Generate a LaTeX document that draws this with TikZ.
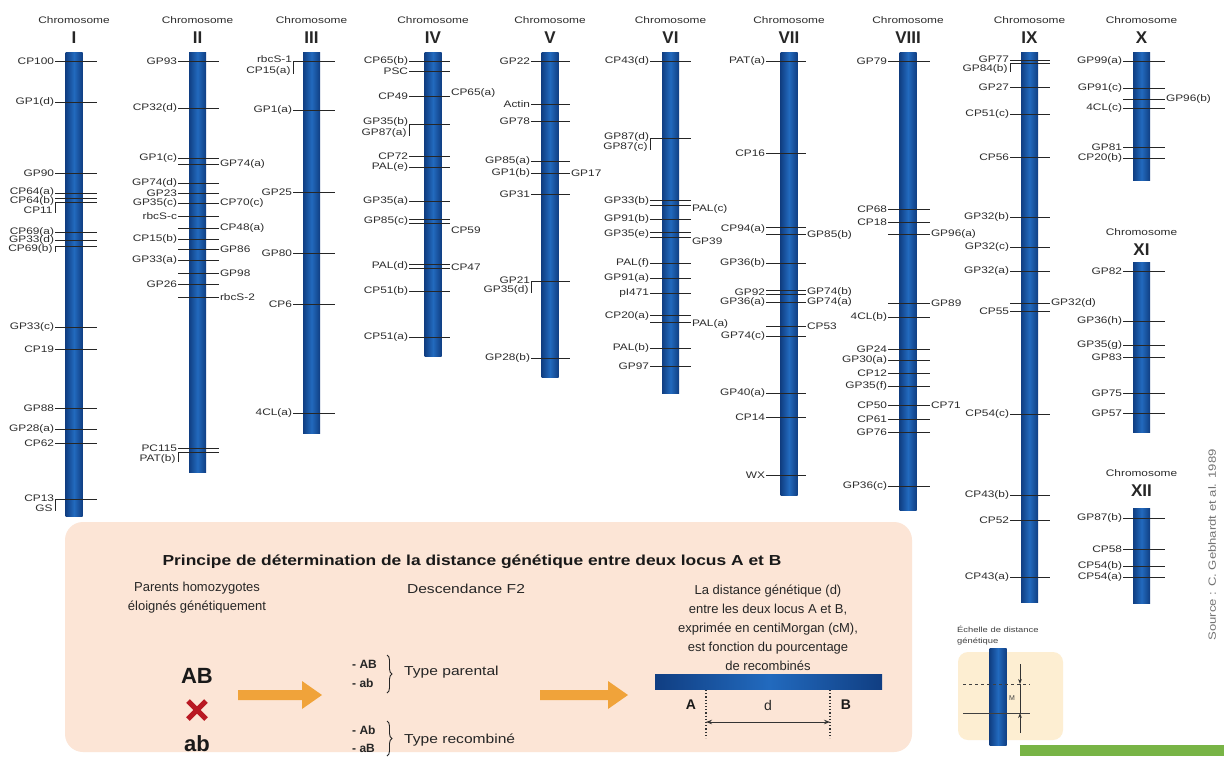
\documentclass[tikz,border=0pt]{standalone}
\usepackage{fontspec}
\setmainfont{Liberation Sans}
\newfontfamily\lblfont[FakeStretch=1.25]{Liberation Sans}
\newfontfamily\widefont[FakeStretch=1.2]{Liberation Sans}
\usetikzlibrary{arrows.meta,decorations.pathreplacing}
\definecolor{bardark}{RGB}{16,62,130}
\definecolor{barmid}{RGB}{34,106,190}
\definecolor{lblcol}{RGB}{45,45,45}
\definecolor{panel}{RGB}{252,229,214}
\definecolor{arr}{RGB}{240,163,58}
\definecolor{xred}{RGB}{185,25,35}
\definecolor{scalebg}{RGB}{253,238,210}
\definecolor{grn}{RGB}{120,180,70}
\newcounter{nn}
\tikzset{
  mtick/.style={draw=black!85, line width=0.7pt},
  lblL/.style={font=\lblfont\fontsize{9.5}{10}\selectfont, text=lblcol, anchor=east, inner sep=0.8pt},
  lblR/.style={lblL, anchor=west},
  ctitle/.style={font=\lblfont\fontsize{9.5}{10}\selectfont, text=lblcol, inner sep=0pt},
  cnum/.style={font=\bfseries\fontsize{17}{17}\selectfont, text=black!85, inner sep=0pt},
  chbar/.style={left color=bardark, right color=bardark, middle color=barmid, minimum width=17pt, inner sep=0pt, anchor=north},
  ptext/.style={font=\fontsize{13}{13}\selectfont, text=black!85, inner sep=0pt},
  pwide/.style={font=\widefont\fontsize{13}{13}\selectfont, text=black!85, inner sep=0pt},
  pbold/.style={font=\bfseries\fontsize{12}{12}\selectfont, text=black!85, inner sep=0pt},
}
\newcommand\tk[3]{\draw[mtick] (\xl,#1) -- (\xr,#1);%
  \ifx\relax#2\relax\else\stepcounter{nn}\node[lblL] (n\thenn) at (\xl,#1) {#2};\fi
  \ifx\relax#3\relax\else\stepcounter{nn}\node[lblR] (n\thenn) at (\xr,#1) {#3};\fi}
\newcommand\lL[2]{\stepcounter{nn}\node[lblL] (n\thenn) at (\xl,#1) {#2};}
\newcommand\lR[2]{\stepcounter{nn}\node[lblR] (n\thenn) at (\xr,#1) {#2};}
\newcommand\brk[3]{\draw[mtick] (\xl,#1) -- (\xl,#2+3);\stepcounter{nn}\node[lblL] (n\thenn) at (\xl-1.5,#2) {#3};}
\newcommand\chbr[4]{\node[chbar, minimum height=#4pt] (#1) at (#2,#3) {};}
\newcommand\chtitle[4]{\node[ctitle] (t#1) at (#2,#3) {Chromosome};\node[cnum] (r#1) at (#2,#3+18) {#4};}
\begin{document}
\begin{tikzpicture}[x=1pt,y=-1pt]
\useasboundingbox (0,0) rectangle (1224,756);
\fill[white] (0,0) rectangle (1224,756);
% ---------- bottom panel
\fill[panel, rounded corners=18pt] (65,522) rectangle (912,752);
% titles
\chtitle{I}{74}{20}{I}
\chtitle{II}{197.5}{20}{II}
\chtitle{III}{311.5}{20}{III}
\chtitle{IV}{433}{20}{IV}
\chtitle{V}{550}{20}{V}
\chtitle{VI}{670.5}{20}{VI}
\chtitle{VII}{789}{20}{VII}
\chtitle{VIII}{908}{20}{VIII}
\chtitle{IX}{1029.5}{20}{IX}
\chtitle{X}{1141.5}{20}{X}
\chtitle{XI}{1141.5}{232}{XI}
\chtitle{XII}{1141.5}{473}{XII}
% bars
\chbr{bI}{74}{52}{464}
\chbr{bII}{197.5}{52}{420}
\chbr{bIII}{311.5}{52}{381}
\chbr{bIV}{433}{52}{304}
\chbr{bV}{550}{52}{325}
\chbr{bVI}{670.5}{52}{341}
\chbr{bVII}{789}{52}{443}
\chbr{bVIII}{908}{52}{458}
\chbr{bIX}{1029.5}{52}{550}
\chbr{bX}{1141.5}{52}{128}
\chbr{bXI}{1141.5}{262}{170}
\chbr{bXII}{1141.5}{508}{95}
% ---------- I
\def\xl{55}\def\xr{97}
\tk{61}{CP100}{}
\tk{102}{GP1(d)}{}
\tk{173}{GP90}{}
\tk{193}{}{}\lL{192}{CP64(a)}
\tk{198}{}{}\lL{201}{CP64(b)}
\tk{202}{}{}\brk{202}{210}{CP11}
\tk{232}{CP69(a)}{}
\tk{240}{GP33(d)}{}
\tk{246}{}{}\brk{246}{249}{CP69(b)}
\tk{327}{GP33(c)}{}
\tk{349}{CP19}{}
\tk{408}{GP88}{}
\tk{429}{GP28(a)}{}
\tk{443}{CP62}{}
\tk{499}{}{}\lL{498}{CP13}\brk{499}{508}{GS}
% ---------- II
\def\xl{178}\def\xr{219}
\tk{61}{GP93}{}
\tk{108}{CP32(d)}{}
\tk{158}{GP1(c)}{}
\tk{164}{}{GP74(a)}
\tk{183}{GP74(d)}{}
\tk{193}{GP23}{}
\tk{203}{GP35(c)}{CP70(c)}
\tk{216}{rbcS-c}{}
\tk{228}{}{CP48(a)}
\tk{239}{CP15(b)}{}
\tk{249}{}{GP86}
\tk{260}{GP33(a)}{}
\tk{273}{}{GP98}
\tk{284}{GP26}{}
\tk{297}{}{rbcS-2}
\tk{448}{PC115}{}
\tk{452}{}{}\brk{452}{459}{PAT(b)}
% ---------- III
\def\xl{293}\def\xr{335}
\tk{61}{}{}\lL{59}{rbcS-1}\brk{61}{71}{CP15(a)}
\tk{110}{GP1(a)}{}
\tk{192}{GP25}{}
\tk{253}{GP80}{}
\tk{304}{CP6}{}
\tk{413}{4CL(a)}{}
% ---------- IV
\def\xl{409}\def\xr{450}
\tk{61}{CP65(b)}{}
\tk{71}{PSC}{}
\tk{96}{CP49}{}\lR{93}{CP65(a)}
\tk{124}{}{}\lL{122}{GP35(b)}\brk{124}{133}{GP87(a)}
\tk{156}{CP72}{}
\tk{167}{PAL(e)}{}
\tk{201}{GP35(a)}{}
\tk{219}{}{}\tk{223}{}{}\lL{221}{GP85(c)}\lR{230}{CP59}
\tk{264}{}{}\tk{268}{}{}\lL{266}{PAL(d)}\lR{267}{CP47}
\tk{291}{CP51(b)}{}
\tk{337}{CP51(a)}{}
% ---------- V
\def\xl{531}\def\xr{570}
\tk{61}{GP22}{}
\tk{104}{Actin}{}
\tk{121}{GP78}{}
\tk{161}{GP85(a)}{}
\tk{173}{GP1(b)}{GP17}
\tk{194}{GP31}{}
\tk{281}{}{}\lL{280}{GP21}\brk{281}{290}{GP35(d)}
\tk{358}{GP28(b)}{}
% ---------- VI
\def\xl{650}\def\xr{691}
\tk{61}{CP43(d)}{}
\tk{138}{}{}\lL{137}{GP87(d)}\brk{138}{147}{GP87(c)}
\tk{200}{}{}\tk{205}{}{}\lL{201}{GP33(b)}\lR{209}{PAL(c)}
\tk{219}{GP91(b)}{}
\tk{232}{}{}\tk{237}{}{}\lL{234}{GP35(e)}\lR{241}{GP39}
\tk{263}{PAL(f)}{}
\tk{278}{GP91(a)}{}
\tk{293}{pI471}{}
\tk{315}{}{}\tk{322}{}{}\lL{316}{CP20(a)}\lR{324}{PAL(a)}
\tk{348}{PAL(b)}{}
\tk{366}{GP97}{}
% ---------- VII
\def\xl{766}\def\xr{806}
\tk{61}{PAT(a)}{}
\tk{153}{CP16}{}
\tk{227}{}{}\tk{234}{}{}\lL{229}{CP94(a)}\lR{235}{GP85(b)}
\tk{263}{GP36(b)}{}
\tk{290}{}{}\tk{294}{}{}\lL{292}{GP92}\lR{292}{GP74(b)}
\tk{302}{GP36(a)}{GP74(a)}
\tk{326}{}{CP53}
\tk{336}{GP74(c)}{}
\tk{393}{GP40(a)}{}
\tk{417}{CP14}{}
\tk{475}{WX}{}
% ---------- VIII
\def\xl{888}\def\xr{930}
\tk{61}{GP79}{}
\tk{209}{CP68}{}
\tk{222}{CP18}{}
\tk{234}{}{GP96(a)}
\tk{303}{}{GP89}
\tk{317}{4CL(b)}{}
\tk{349}{GP24}{}
\tk{360}{GP30(a)}{}
\tk{373}{CP12}{}
\tk{386}{GP35(f)}{}
\tk{405}{CP50}{CP71}
\tk{419}{CP61}{}
\tk{432}{GP76}{}
\tk{486}{GP36(c)}{}
% ---------- IX
\def\xl{1010}\def\xr{1050}
\tk{60}{}{}\tk{63}{}{}\lL{59}{GP77}\brk{63}{69}{GP84(b)}
\tk{87}{GP27}{}
\tk{114}{CP51(c)}{}
\tk{157}{CP56}{}
\tk{217}{GP32(b)}{}
\tk{247}{GP32(c)}{}
\tk{271}{GP32(a)}{}
\tk{303}{}{GP32(d)}
\tk{311}{CP55}{}
\tk{414}{CP54(c)}{}
\tk{495}{CP43(b)}{}
\tk{520}{CP52}{}
\tk{577}{CP43(a)}{}
% ---------- X, XI, XII
\def\xl{1123}\def\xr{1165}
\tk{61}{GP99(a)}{}
\tk{88}{GP91(c)}{}
\tk{99}{}{GP96(b)}
\tk{108}{4CL(c)}{}
\tk{147}{GP81}{}
\tk{158}{CP20(b)}{}
\tk{271}{GP82}{}
\tk{321}{GP36(h)}{}
\tk{345}{GP35(g)}{}
\tk{357}{GP83}{}
\tk{393}{GP75}{}
\tk{413}{GP57}{}
\tk{518}{GP87(b)}{}
\tk{549}{CP58}{}
\tk{566}{CP54(b)}{}
\tk{577}{CP54(a)}{}
% ---------- source
\node[rotate=90, font=\lblfont\fontsize{10.5}{10.5}\selectfont, text=black!55, inner sep=0pt] (src) at (1212,545) {Source : C. Gebhardt et al. 1989};
% ---------- panel content
\node[font=\widefont\bfseries\fontsize{14.5}{14.5}\selectfont, text=black!90, inner sep=0pt] (ptitle) at (472,562) {Principe de détermination de la distance génétique entre deux locus A et B};
\node[ptext, align=center] (par) at (197,598) {Parents homozygotes\\[6pt]éloignés génétiquement};
\node[pwide] (desc) at (466,589) {Descendance F2};
\node[ptext, align=center] (dist) at (768,628) {La distance génétique (d)\\[6pt]entre les deux locus A et B,\\[6pt]exprimée en centiMorgan (cM),\\[6pt]est fonction du pourcentage\\[6pt]de recombinés};
\node[font=\bfseries\fontsize{22}{22}\selectfont, text=black!90, inner sep=0pt] (AB) at (197,676) {AB};
\node[font=\bfseries\fontsize{22}{22}\selectfont, text=black!90, inner sep=0pt] (ab) at (197,744) {ab};
\coordinate (xc) at (197,710);
\draw[xred, line width=5pt] ([shift={(-9,-9)}]xc) -- ([shift={(9,9)}]xc);
\draw[xred, line width=5pt] ([shift={(9,-9)}]xc) -- ([shift={(-9,9)}]xc);
\fill[arr] (238,690) -- (302,690) -- (302,681) -- (322,695) -- (302,709) -- (302,700) -- (238,700) -- cycle;
\fill[arr] (540,690) -- (608,690) -- (608,681) -- (628,695) -- (608,709) -- (608,700) -- (540,700) -- cycle;
\node[pbold, anchor=west] (g1) at (352,664) {- AB};
\node[pbold, anchor=west] (g2) at (352,683) {- ab};
\node[pbold, anchor=west] (g3) at (352,730) {- Ab};
\node[pbold, anchor=west] (g4) at (352,748) {- aB};
\draw[decorate, decoration={brace, amplitude=5pt}, line width=0.9pt, black!85] (387,655) -- (387,693);
\draw[decorate, decoration={brace, amplitude=5pt}, line width=0.9pt, black!85] (387,721) -- (387,756);
\node[pwide, anchor=west] (tp) at (404,672) {Type parental};
\node[pwide, anchor=west] (tr) at (404,740) {Type recombiné};
\node[left color=bardark, right color=bardark, middle color=barmid, minimum width=227pt, minimum height=15pt, inner sep=0pt, anchor=north west] (abar) at (655,674) {};
\node[font=\bfseries\fontsize{14}{14}\selectfont, text=black!90, inner sep=0pt] (lA) at (691,705) {A};
\node[font=\bfseries\fontsize{14}{14}\selectfont, text=black!90, inner sep=0pt] (lB) at (846,705) {B};
\node[font=\fontsize{14}{14}\selectfont, text=black!85, inner sep=0pt] (ld) at (768,705) {d};
\coordinate (dA1) at (706,690); \coordinate (dA2) at (706,738);
\coordinate (dB1) at (830,690); \coordinate (dB2) at (830,738);
\draw[black!80, line width=1.2pt, dotted] (dA1) -- (dA2);
\draw[black!80, line width=1.2pt, dotted] (dB1) -- (dB2);
\draw[black!80, line width=0.8pt, {Stealth[length=6pt]}-{Stealth[length=6pt]}] (706,722) -- (830,722);
% ---------- scale
\node[font=\lblfont\fontsize{7.5}{7.5}\selectfont, text=black!75, anchor=west, inner sep=0pt] (sc1) at (957,629) {Échelle de distance};
\node[font=\lblfont\fontsize{7.5}{7.5}\selectfont, text=black!75, anchor=west, inner sep=0pt] (sc2) at (957,642) {génétique};
\fill[scalebg, rounded corners=10pt] (958,652) rectangle (1063,740);
\node[chbar, minimum height=97pt] (sbar) at (998,648) {};
\draw[black!75, line width=0.7pt, dashed] (963,684) -- (1030,684);
\draw[black!75, line width=0.7pt] (963,713) -- (1030,713);
\draw[black!80, line width=0.8pt, -{Stealth[length=5pt]}] (1020,664) -- (1020,684);
\draw[black!80, line width=0.8pt, -{Stealth[length=5pt]}] (1020,733) -- (1020,713);
\draw[black!80, line width=0.8pt] (1020,684) -- (1020,713);
\node[font=\fontsize{7}{7}\selectfont, text=black!75, inner sep=0pt] (sM) at (1012,698) {M};
% ---------- green strip
\fill[grn] (1020,745) rectangle (1224,756);
\end{tikzpicture}
\end{document}
